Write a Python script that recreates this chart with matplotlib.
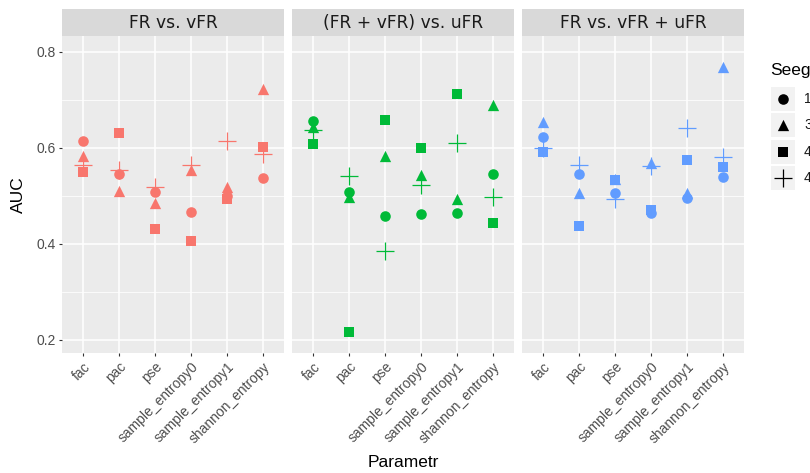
import matplotlib
matplotlib.use('Agg')
import matplotlib.pyplot as plt
from matplotlib.patches import Rectangle

# parameters on the x axis
params = ['fac', 'pac', 'pse', 'sample_entropy0', 'sample_entropy1', 'shannon_entropy']
panels = ['FR vs. vFR', '(FR + vFR) vs. uFR', 'FR vs. vFR + uFR']
colors = ['#F8766D', '#00BA38', '#619CFF']
seeg_labels = ['1', '3', '4', '4']
seeg_markers = ['o', '^', 's', '+']

# AUC values per panel, rows follow seeg_labels
fr_vfr = [
    [0.614, 0.545, 0.509, 0.467, 0.500, 0.537],
    [0.583, 0.510, 0.485, 0.554, 0.519, 0.722],
    [0.550, 0.630, 0.430, 0.405, 0.493, 0.601],
    [0.564, 0.554, 0.518, 0.564, 0.614, 0.587],
]
frvfr_ufr = [
    [0.656, 0.507, 0.458, 0.462, 0.465, 0.545],
    [0.644, 0.497, 0.583, 0.543, 0.493, 0.689],
    [0.609, 0.217, 0.658, 0.599, 0.713, 0.443],
    [0.638, 0.541, 0.385, 0.523, 0.611, 0.497],
]
fr_vfrufr = [
    [0.623, 0.545, 0.505, 0.465, 0.495, 0.540],
    [0.654, 0.505, 0.535, 0.568, 0.505, 0.769],
    [0.592, 0.438, 0.533, 0.471, 0.575, 0.561],
    [0.599, 0.564, 0.493, 0.562, 0.641, 0.581],
]
panel_data = [fr_vfr, frvfr_ufr, fr_vfrufr]

marker_size = {'o': 58, '^': 66, 's': 52, '+': 160}

W, H = 810, 473
fig = plt.figure(figsize=(W / 100, H / 100), dpi=100)
fig.patch.set_facecolor('white')

def fx(px):
    return px / W

def fy(py):
    return 1 - py / H

sans = ['Liberation Sans', 'DejaVu Sans']

def draw_points(ax, xs, ys, mk, col):
    if mk == '+':
        ax.scatter(xs, ys, marker='+', s=marker_size[mk], color=col,
                   linewidths=0.9, zorder=3)
    else:
        ax.scatter(xs, ys, marker=mk, s=marker_size[mk], color=col,
                   linewidths=0, zorder=3)

for i, (title, data, col) in enumerate(zip(panels, panel_data, colors)):
    left = 62 + i * 230
    ax = fig.add_axes([fx(left), fy(353.3), fx(222), (353.3 - 36) / H])
    ax.set_facecolor('#EBEBEB')
    for s in ax.spines.values():
        s.set_visible(False)
    ax.set_xlim(-0.6, 5.6)
    ax.set_ylim(0.172, 0.833)
    ax.set_yticks([0.2, 0.4, 0.6, 0.8])
    ax.set_yticks([0.3, 0.5, 0.7], minor=True)
    ax.set_xticks(range(len(params)))
    ax.grid(True, which='major', color='white', linewidth=1.1)
    ax.grid(True, which='minor', axis='y', color='white', linewidth=0.55)
    ax.set_axisbelow(True)
    ax.tick_params(axis='both', which='major', length=2.5, width=0.8,
                   color='#333333', labelcolor='#4D4D4D', labelsize=10, pad=2)
    ax.tick_params(axis='y', which='minor', length=0)
    ax.set_xticklabels(params, rotation=45, ha='right', rotation_mode='anchor',
                       family=sans)
    if i == 0:
        ax.set_yticklabels(['0.2', '0.4', '0.6', '0.8'], family=sans)
    else:
        ax.tick_params(axis='y', labelleft=False, length=0)

    for row, mk in zip(data, seeg_markers):
        draw_points(ax, range(len(params)), row, mk, col)

    # facet strip
    sax = fig.add_axes([fx(left), fy(36), fx(222), 27 / H])
    sax.set_facecolor('#D9D9D9')
    sax.set_xticks([])
    sax.set_yticks([])
    for s in sax.spines.values():
        s.set_visible(False)
    sax.text(0.5, 0.48, title, ha='center', va='center', fontsize=12.3,
             color='#1A1A1A', family='DejaVu Sans', transform=sax.transAxes)

fig.text(fx(403), fy(462), 'Parametr', ha='center', va='center',
         fontsize=12.5, family=sans, color='black')
fig.text(fx(18), fy(195), 'AUC', ha='center', va='center', rotation=90,
         fontsize=12.5, family=sans, color='black')

# legend (cut off at the right edge, as in the reference)
lax = fig.add_axes([fx(760), 0, fx(50), 1])
lax.set_xlim(760, 810)
lax.set_ylim(H, 0)
lax.axis('off')
lax.text(770, 71, 'Seeg', ha='left', va='center', fontsize=12.5, family=sans)
for k, (lab, mk) in enumerate(zip(seeg_labels, seeg_markers)):
    cy = 98.7 + k * 26.5
    lax.add_patch(Rectangle((770.7, cy - 12), 24.3, 24, facecolor='#F2F2F2',
                            edgecolor='none'))
    draw_points(lax, [783], [cy], mk, 'black')
    lax.text(804, cy, lab, ha='left', va='center', fontsize=10, family=sans,
             color='#1A1A1A')

fig.savefig('out.png', dpi=100)
